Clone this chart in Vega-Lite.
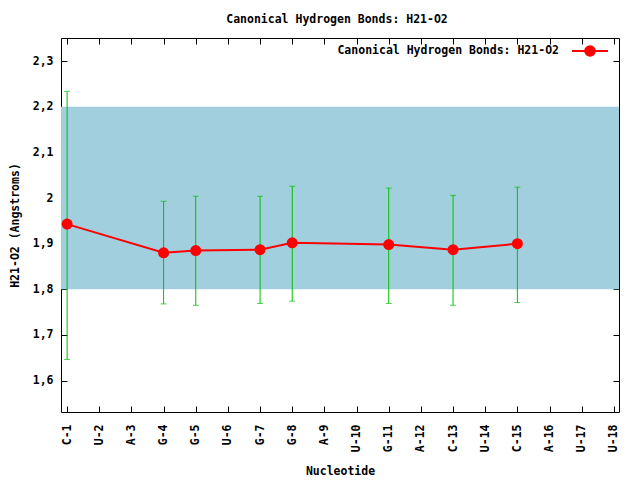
{
  "$schema": "https://vega.github.io/schema/vega-lite/v6.json",
  "autosize": "none",
  "width": 558,
  "height": 374,
  "padding": {"left": 61, "top": 38, "right": 21, "bottom": 68},
  "background": "white",
  "config": {
    "view": {"stroke": "black", "strokeWidth": 1},
    "font": "DejaVu Sans Mono",
    "axis": {"grid": false, "domain": false, "labelFont": "DejaVu Sans Mono", "labelFontWeight": "bold", "labelFontSize": 11.5, "labelColor": "black", "titleFont": "DejaVu Sans Mono", "titleFontWeight": "bold", "titleFontSize": 11.5, "titleColor": "black", "tickColor": "black", "tickSize": -6, "tickWidth": 1}
  },
  "title": {"text": "Canonical Hydrogen Bonds: H21-O2", "font": "DejaVu Sans Mono", "fontSize": 11.5, "fontWeight": "bold", "color": "black", "baseline": "alphabetic", "offset": 3, "dx": -3},
  "datasets": {
    "band": [{"lo": 1.8, "hi": 2.2}],
    "bonds": [
      {"idx": 1, "nucleotide": "C-1", "mean": 1.943, "lo": 1.646, "hi": 2.234, "series": "Canonical Hydrogen Bonds: H21-O2"},
      {"idx": 4, "nucleotide": "G-4", "mean": 1.880, "lo": 1.768, "hi": 1.993, "series": "Canonical Hydrogen Bonds: H21-O2"},
      {"idx": 5, "nucleotide": "G-5", "mean": 1.885, "lo": 1.765, "hi": 2.004, "series": "Canonical Hydrogen Bonds: H21-O2"},
      {"idx": 7, "nucleotide": "G-7", "mean": 1.887, "lo": 1.769, "hi": 2.004, "series": "Canonical Hydrogen Bonds: H21-O2"},
      {"idx": 8, "nucleotide": "G-8", "mean": 1.902, "lo": 1.774, "hi": 2.026, "series": "Canonical Hydrogen Bonds: H21-O2"},
      {"idx": 11, "nucleotide": "G-11", "mean": 1.898, "lo": 1.769, "hi": 2.022, "series": "Canonical Hydrogen Bonds: H21-O2"},
      {"idx": 13, "nucleotide": "C-13", "mean": 1.887, "lo": 1.765, "hi": 2.006, "series": "Canonical Hydrogen Bonds: H21-O2"},
      {"idx": 15, "nucleotide": "C-15", "mean": 1.900, "lo": 1.771, "hi": 2.024, "series": "Canonical Hydrogen Bonds: H21-O2"}
    ]
  },
  "resolve": {"axis": {"x": "independent", "y": "independent"}},
  "layer": [
    {
      "data": {"name": "band"},
      "mark": {"type": "rect", "color": "#a2cfde"},
      "encoding": {
        "y": {"field": "lo", "type": "quantitative", "scale": {"domain": [1.531, 2.351], "zero": false, "nice": false}, "axis": null},
        "y2": {"field": "hi"}
      }
    },
    {
      "data": {"name": "bonds"},
      "mark": {"type": "rule", "color": "#00c000", "strokeWidth": 1},
      "encoding": {
        "x": {"field": "idx", "type": "quantitative", "scale": {"domain": [0.81, 18.16], "nice": false, "zero": false},
          "axis": {"values": [1,2,3,4,5,6,7,8,9,10,11,12,13,14,15,16,17,18], "title": "Nucleotide", "labelAngle": 270, "labelAlign": "right", "labelBaseline": "middle", "labelPadding": 18, "titlePadding": 14,
            "labelExpr": "['C-1','U-2','A-3','G-4','G-5','U-6','G-7','G-8','A-9','U-10','G-11','A-12','C-13','U-14','C-15','A-16','U-17','U-18'][datum.value - 1]"}},
        "y": {"field": "lo", "type": "quantitative", "scale": {"domain": [1.531, 2.351], "zero": false, "nice": false},
          "axis": {"values": [1.6,1.7,1.8,1.9,2.0,2.1,2.2,2.3], "title": "H21-O2 (Angstroms)", "labelPadding": 14, "labelExpr": "replace(format(datum.value, '~g'), '.', ',')", "titleX": -41, "titleY": 187}},
        "y2": {"field": "hi"}
      }
    },
    {
      "data": {"name": "bonds"},
      "mark": {"type": "tick", "color": "#00c000", "orient": "horizontal", "size": 6, "thickness": 1},
      "encoding": {
        "x": {"field": "idx", "type": "quantitative", "axis": {"orient": "top", "values": [1,2,3,4,5,6,7,8,9,10,11,12,13,14,15,16,17,18], "labels": false, "title": null}},
        "y": {"field": "lo", "type": "quantitative", "axis": {"orient": "right", "values": [1.6,1.7,1.8,1.9,2.0,2.1,2.2,2.3], "labels": false, "title": null}}
      }
    },
    {
      "data": {"name": "bonds"},
      "mark": {"type": "tick", "color": "#00c000", "orient": "horizontal", "size": 6, "thickness": 1},
      "encoding": {
        "x": {"field": "idx", "type": "quantitative", "axis": null},
        "y": {"field": "hi", "type": "quantitative", "axis": null}
      }
    },
    {
      "data": {"name": "bonds"},
      "mark": {"type": "line", "strokeWidth": 2},
      "encoding": {
        "x": {"field": "idx", "type": "quantitative", "axis": null},
        "y": {"field": "mean", "type": "quantitative", "axis": null},
        "color": {"field": "series", "type": "nominal", "scale": {"range": ["#ff0000"]}}
      }
    },
    {
      "data": {"name": "bonds"},
      "mark": {"type": "point", "filled": true, "size": 121, "opacity": 1, "shape": "circle"},
      "encoding": {
        "x": {"field": "idx", "type": "quantitative", "axis": null},
        "y": {"field": "mean", "type": "quantitative", "axis": null},
        "color": {"field": "series", "type": "nominal", "scale": {"range": ["#ff0000"]},
          "legend": {"title": null, "orient": "none", "legendX": 516, "legendY": 0, "symbolType": "M-1.5,0H1.5M0.4,0A0.4,0.4,0,1,1,-0.4,0A0.4,0.4,0,1,1,0.4,0", "symbolSize": 576, "symbolStrokeWidth": 2, "symbolStrokeColor": "#ff0000", "symbolFillColor": "#ff0000", "labelAlign": "right", "labelOffset": -44, "labelFont": "DejaVu Sans Mono", "labelFontWeight": "bold", "labelFontSize": 11.5, "labelColor": "black", "labelLimit": 400,
            "encode": {"symbols": {"update": {"stroke": {"value": "#ff0000"}, "strokeWidth": {"value": 2}, "fill": {"value": "#ff0000"}}}}}}
      }
    }
  ]
}
